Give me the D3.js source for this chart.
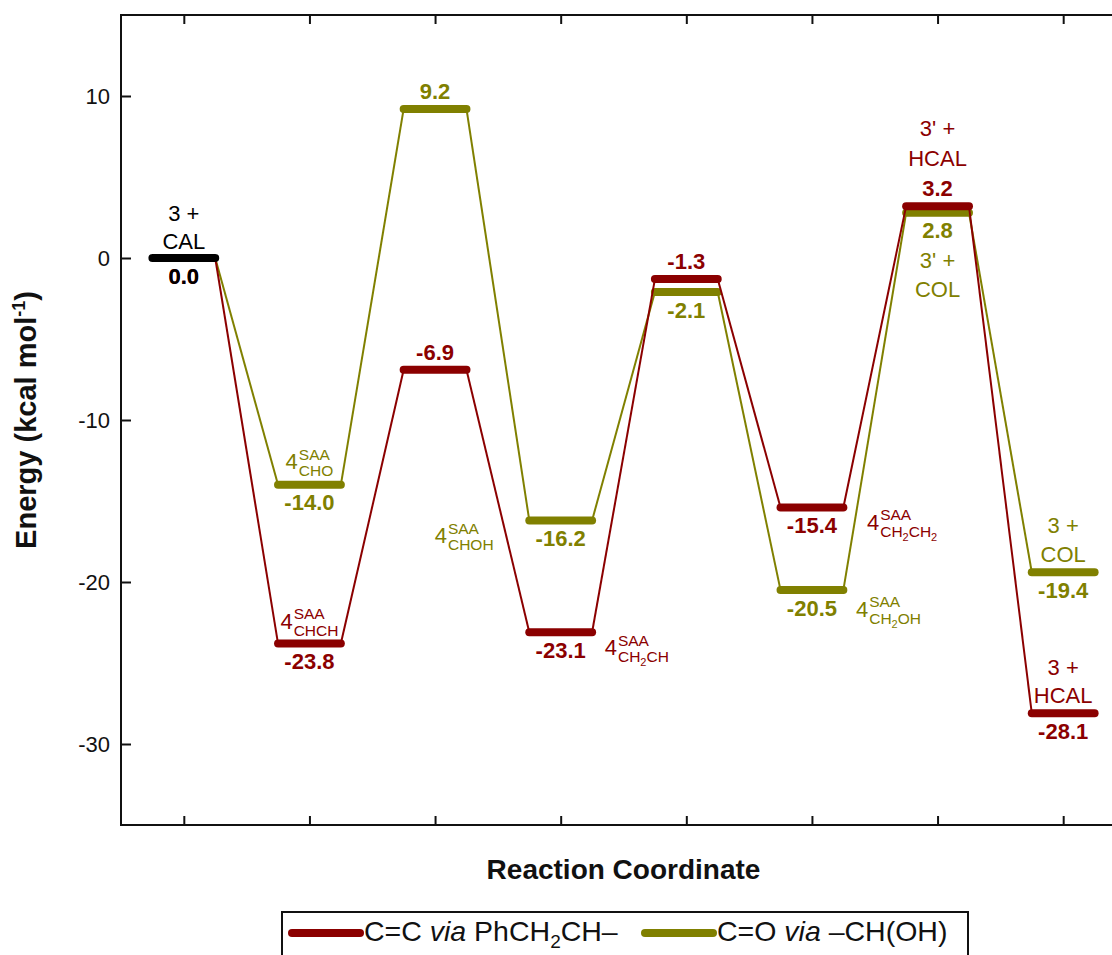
<!DOCTYPE html>
<html>
<head>
<meta charset="utf-8">
<script src="https://cdn.jsdelivr.net/npm/d3@7"></script>
<style>
  body { margin: 0; background: #fff; }
  svg { display: block; font-family: "Liberation Sans", Arial, Helvetica, sans-serif; }
</style>
</head>
<body>
<div id="chart"></div>
<script>
// Reaction coordinate steps and energies (kcal/mol)
const steps = [1, 2, 3, 4, 5, 6, 7, 8];
const energyCC = [0.0, -23.8, -6.9, -23.1, -1.3, -15.4, 3.2, -28.1];
const energyCO = [0.0, -14.0, 9.2, -16.2, -2.1, -20.5, 2.8, -19.4];
const yTicks = [-30, -20, -10, 0, 10];

// Species names (SAA intermediates are given by their subscript only)
const startSpecies = ['3 +', 'CAL'];
const speciesCC = [null, 'CHCH', null, 'CH2CH', null, 'CH2CH2', ["3' +", 'HCAL'], ['3 +', 'HCAL']];
const speciesCO = [null, 'CHO', null, 'CHOH', null, 'CH2OH', ["3' +", 'COL'], ['3 +', 'COL']];

const colorCC = '#8b0000';
const colorCO = '#808000';

// Label layout (pixel offsets from level centre)
const layoutCC = {
    value: ['below', 'below', 'above', 'below', 'above', 'below', 'above', 'below'],
    1: { kind: 'saa', align: 'middle', dx: 0, dy: -15 },
    3: { kind: 'saa', align: 'start', dx: 44, dy: 23 },
    5: { kind: 'saa', align: 'start', dx: 55, dy: 22.5 },
    6: { kind: 'lines', dy: [-70, -40] },
    7: { kind: 'lines', dy: [-38, -10.5] }
};
const layoutCO = {
    value: [null, 'below', 'above', 'below', 'below', 'below', 'below', 'below'],
    1: { kind: 'saa', align: 'middle', dx: 0, dy: -15.5 },
    3: { kind: 'saa', align: 'start', dx: -126, dy: 22.6 },
    5: { kind: 'saa', align: 'start', dx: 44, dy: 26.7 },
    6: { kind: 'lines', dy: [55.4, 84] },
    7: { kind: 'lines', dy: [-39, -10.6] }
};

const width = 1112;
const height = 955;
const plot = { left: 121, right: 1126, top: 15, bottom: 825 };
const halfLevel = 0.25;

const svg = d3.select('#chart')
    .append('svg')
    .attr('width', width)
    .attr('height', height);

const x = d3.scaleLinear()
    .domain([0.5, 8.5])
    .range([plot.left, plot.right]);

const y = d3.scaleLinear()
    .domain([-35, 15])
    .range([plot.bottom, plot.top]);

// Axes with inward ticks
const axisStyle = g => {
    g.select('.domain').remove();
    g.selectAll('.tick line').attr('stroke', '#111').attr('stroke-width', 2);
    g.selectAll('.tick text').attr('fill', '#111').style('font-size', '22px');
};

svg.append('g')
    .attr('transform', `translate(${plot.left},0)`)
    .call(d3.axisLeft(y).tickValues(yTicks).tickSize(-10).tickPadding(11).tickFormat(d => String(d)))
    .call(axisStyle);

svg.append('g')
    .attr('transform', `translate(${plot.right},0)`)
    .call(d3.axisRight(y).tickValues(yTicks).tickSize(-10).tickFormat(''))
    .call(axisStyle);

svg.append('g')
    .attr('transform', `translate(0,${plot.bottom})`)
    .call(d3.axisBottom(x).tickValues(steps).tickSize(-9).tickFormat(''))
    .call(axisStyle);

svg.append('g')
    .attr('transform', `translate(0,${plot.top})`)
    .call(d3.axisTop(x).tickValues(steps).tickSize(-9).tickFormat(''))
    .call(axisStyle);

svg.append('rect')
    .attr('x', plot.left)
    .attr('y', plot.top)
    .attr('width', plot.right - plot.left)
    .attr('height', plot.bottom - plot.top)
    .attr('fill', 'none')
    .attr('stroke', '#111')
    .attr('stroke-width', 2);

// Axis titles
svg.append('text')
    .attr('x', (plot.left + plot.right) / 2)
    .attr('y', 879)
    .attr('text-anchor', 'middle')
    .style('font-size', '28px')
    .style('font-weight', 'bold')
    .attr('fill', '#111')
    .text('Reaction Coordinate');

const yTitle = svg.append('text')
    .attr('transform', `translate(36,${(plot.top + plot.bottom) / 2}) rotate(-90)`)
    .attr('text-anchor', 'middle')
    .style('font-size', '29px')
    .style('font-weight', 'bold')
    .attr('fill', '#111');
yTitle.append('tspan').text('Energy (kcal mol');
yTitle.append('tspan').attr('dy', -11).style('font-size', '18px').text('-1');
yTitle.append('tspan').attr('dy', 11).text(')');

// Energy profile for one pathway
function drawPath(energies, color) {
    const g = svg.append('g');
    for (let i = 0; i < energies.length - 1; i++) {
        g.append('line')
            .attr('x1', x(steps[i] + halfLevel))
            .attr('y1', y(energies[i]))
            .attr('x2', x(steps[i + 1] - halfLevel))
            .attr('y2', y(energies[i + 1]))
            .attr('stroke', color)
            .attr('stroke-width', 2);
    }
    g.selectAll('.level')
        .data(energies.slice(1))
        .enter()
        .append('line')
        .attr('x1', (d, i) => x(steps[i + 1] - halfLevel))
        .attr('x2', (d, i) => x(steps[i + 1] + halfLevel))
        .attr('y1', d => y(d))
        .attr('y2', d => y(d))
        .attr('stroke', color)
        .attr('stroke-width', 8)
        .attr('stroke-linecap', 'round');
}

drawPath(energyCO, colorCO);
drawPath(energyCC, colorCC);

// shared starting level
svg.append('line')
    .attr('x1', x(steps[0] - halfLevel))
    .attr('x2', x(steps[0] + halfLevel))
    .attr('y1', y(0))
    .attr('y2', y(0))
    .attr('stroke', '#000')
    .attr('stroke-width', 8)
    .attr('stroke-linecap', 'round');

function plainText(px, py, str, color, bold) {
    svg.append('text')
        .attr('x', px)
        .attr('y', py)
        .attr('text-anchor', 'middle')
        .attr('fill', color)
        .style('font-size', '22px')
        .style('font-weight', bold ? 'bold' : 'normal')
        .text(str);
}

// 4^SAA_sub label
function saaLabel(px, py, sub, color, align) {
    const g = svg.append('g').attr('fill', color);
    const four = g.append('text').attr('x', 0).attr('y', 0).style('font-size', '22px').text('4');
    const w = four.node().getComputedTextLength() + 1;
    g.append('text').attr('x', w).attr('y', -9.5).style('font-size', '15.5px').text('SAA');
    const s = g.append('text').attr('x', w).attr('y', 7).style('font-size', '15.5px');
    let lowered = false;
    sub.split(/(\d)/).filter(t => t).forEach(part => {
        const isDigit = /\d/.test(part);
        const t = s.append('tspan').text(part);
        if (isDigit) {
            t.attr('dy', 4).style('font-size', '11px');
            lowered = true;
        } else if (lowered) {
            t.attr('dy', -4);
            lowered = false;
        }
    });
    const bw = g.node().getBBox().width;
    const tx = align === 'middle' ? px - bw / 2 : px;
    g.attr('transform', `translate(${tx},${py})`);
}

function annotate(energies, species, layout, color) {
    energies.forEach((e, i) => {
        const cx = x(steps[i]);
        const cy = y(e);
        const side = layout.value[i];
        if (side) {
            plainText(cx, side === 'above' ? cy - 10 : cy + 25.5, e.toFixed(1), color, true);
        }
        const name = species[i];
        const pos = layout[i];
        if (!name || !pos) return;
        if (pos.kind === 'saa') {
            saaLabel(cx + pos.dx, cy + pos.dy, name, color, pos.align);
        } else {
            name.forEach((line, k) => plainText(cx, cy + pos.dy[k], line, color, false));
        }
    });
}

annotate(energyCO, speciesCO, layoutCO, colorCO);
annotate(energyCC, speciesCC, layoutCC, colorCC);

// start species
plainText(x(steps[0]), y(0) - 37, startSpecies[0], '#000', false);
plainText(x(steps[0]), y(0) - 9.5, startSpecies[1], '#000', false);
plainText(x(steps[0]), y(0) + 25.5, energyCC[0].toFixed(1), '#000', true);

// Legend
const legend = svg.append('g');
legend.append('rect')
    .attr('x', 282)
    .attr('y', 912)
    .attr('width', 686)
    .attr('height', 70)
    .attr('fill', '#fff')
    .attr('stroke', '#111')
    .attr('stroke-width', 2);

const legendItems = [
    { color: colorCC, x0: 292, parts: [['C=C ', ''], ['via', 'italic'], [' PhCH', ''], ['2', 'sub'], ['CH–', '']] },
    { color: colorCO, x0: 645, parts: [['C=O ', ''], ['via', 'italic'], [' –CH(OH)', '']] }
];

legendItems.forEach(item => {
    legend.append('line')
        .attr('x1', item.x0)
        .attr('x2', item.x0 + 68)
        .attr('y1', 933)
        .attr('y2', 933)
        .attr('stroke', item.color)
        .attr('stroke-width', 8)
        .attr('stroke-linecap', 'round');
    const t = legend.append('text')
        .attr('x', item.x0 + 72)
        .attr('y', 941)
        .attr('fill', '#111')
        .style('font-size', '28.5px');
    let lowered = false;
    item.parts.forEach(([str, kind]) => {
        const sp = t.append('tspan').text(str);
        if (kind === 'italic') sp.style('font-style', 'italic');
        if (kind === 'sub') {
            sp.attr('dy', 7).style('font-size', '19px');
            lowered = true;
        } else if (lowered) {
            sp.attr('dy', -7);
            lowered = false;
        }
    });
});
</script>
</body>
</html>
